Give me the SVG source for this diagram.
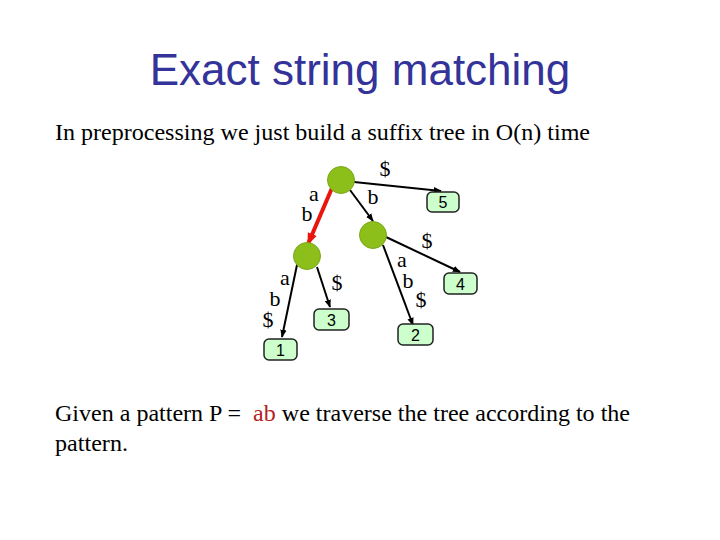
<svg xmlns="http://www.w3.org/2000/svg" width="720" height="540" viewBox="0 0 720 540">
<defs>
<marker id="ah" viewBox="0 0 10 10" refX="9" refY="5" markerWidth="8" markerHeight="8" orient="auto" markerUnits="userSpaceOnUse">
<path d="M0,1 L10,5 L0,9 z" fill="#000"/>
</marker>
<marker id="ahr" viewBox="0 0 10 10" refX="9" refY="5" markerWidth="12" markerHeight="12" orient="auto" markerUnits="userSpaceOnUse">
<path d="M0,1 L10,5 L0,9 z" fill="#e8160c"/>
</marker>
<style>
.title{font-family:"Liberation Sans",Arial,sans-serif;font-size:44px;fill:#333399}
.body{font-family:"Liberation Serif","Times New Roman",serif;font-size:24px;fill:#000}
.lbl{font-family:"Liberation Serif","Times New Roman",serif;font-size:22px;fill:#000;text-anchor:middle}
.node{fill:#8cbf1a;stroke:#7aa81a;stroke-width:1}
.leaf{fill:#ccffcc;stroke:#222;stroke-width:1.5}
.lt{font-family:"Liberation Sans",Arial,sans-serif;font-size:16px;fill:#000;text-anchor:middle}
.e{stroke:#000;stroke-width:2;fill:none}
</style>
</defs>
<rect width="720" height="540" fill="#fff"/>
<text class="title" x="360" y="85" text-anchor="middle">Exact string matching</text>
<text class="body" x="55" y="140" textLength="535" lengthAdjust="spacingAndGlyphs">In preprocessing we just build a suffix tree in O(n) time</text>
<g id="connectors">
<line class="e" x1="354" y1="182" x2="441" y2="191" marker-end="url(#ah)"/>
<line x1="332" y1="188" x2="308" y2="244" stroke="#e8160c" stroke-width="4" marker-end="url(#ahr)"/>
<line class="e" x1="350" y1="190" x2="373" y2="221" marker-end="url(#ah)"/>
<line class="e" x1="386" y1="237" x2="460" y2="272" marker-end="url(#ah)"/>
<line class="e" x1="383" y1="245" x2="413" y2="325" marker-end="url(#ah)"/>
<line class="e" x1="298" y1="260" x2="282" y2="337" marker-end="url(#ah)"/>
<line class="e" x1="317" y1="267" x2="330" y2="307" marker-end="url(#ah)"/>
</g>
<g id="edge-labels">
<text class="lbl" x="385" y="176">$</text>
<text class="lbl" x="314" y="201">a</text>
<text class="lbl" x="307" y="221">b</text>
<text class="lbl" x="373" y="204">b</text>
<text class="lbl" x="427" y="248">$</text>
<text class="lbl" x="402" y="267">a</text>
<text class="lbl" x="408" y="288">b</text>
<text class="lbl" x="421" y="307">$</text>
<text class="lbl" x="337" y="290">$</text>
<text class="lbl" x="285" y="285">a</text>
<text class="lbl" x="275" y="306">b</text>
<text class="lbl" x="268" y="327">$</text>
</g>
<g id="root"><circle class="node" cx="341" cy="180" r="13.5"/></g>
<g id="nodeA"><circle class="node" cx="307" cy="256" r="13.5"/></g>
<g id="nodeB"><circle class="node" cx="373" cy="235" r="13.5"/></g>
<g id="leaf5"><rect class="leaf" x="427" y="192" width="32" height="20" rx="5"/><text class="lt" x="443" y="208">5</text></g>
<g id="leaf4"><rect class="leaf" x="444" y="273" width="33" height="21" rx="5"/><text class="lt" x="460.5" y="289.5">4</text></g>
<g id="leaf3"><rect class="leaf" x="314" y="309" width="35" height="21" rx="5"/><text class="lt" x="331.5" y="325.5">3</text></g>
<g id="leaf2"><rect class="leaf" x="398" y="324" width="35" height="21" rx="5"/><text class="lt" x="415.5" y="340.5">2</text></g>
<g id="leaf1"><rect class="leaf" x="264" y="339" width="33" height="21" rx="5"/><text class="lt" x="280.5" y="355.5">1</text></g>
<text class="body" x="55" y="421" textLength="575" lengthAdjust="spacingAndGlyphs" xml:space="preserve">Given a pattern P =  <tspan fill="#b22222">ab</tspan> we traverse the tree according to the</text>
<text class="body" x="55" y="451" textLength="73" lengthAdjust="spacingAndGlyphs">pattern.</text>
</svg>
